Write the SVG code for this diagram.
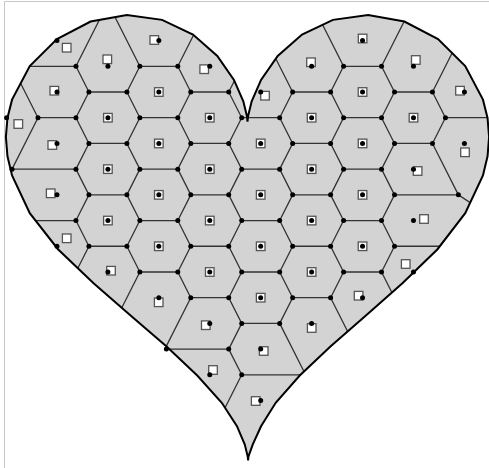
<svg xmlns="http://www.w3.org/2000/svg" width="489" height="468" viewBox="0 0 489 468">
<style>
.e{fill:none;stroke:#333;stroke-width:1.3;stroke-linejoin:round}
.q{fill:#fff;stroke:#555;stroke-width:1.3}
.d{fill:#000}
</style>
<defs>
<path id="heart" d="M247.5,121.6 L248.04,116.28 251.69,101.38 261.04,79.87 277.7,56.02 302.01,34.58 332.92,19.86 368.14,15 404.42,21.5 438.02,39.08 465.23,66.02 482.95,99.64 487.55,118.03 489.1,137 487.55,156.24 482.95,175.48 465.23,213.21 437.52,249.22 402.42,283.3 365.64,315.66 330.42,346.54 299.51,375.81 275.7,402.78 261.04,426.22 252.69,444.58 248.5,456.34 248.1,460.4 247.66,456.34 244.81,444.58 236.96,426.22 221.8,402.78 197.49,375.81 166.58,346.54 130.86,315.66 93.58,283.3 57.98,249.22 29.77,213.21 12.05,175.48 7.45,156.24 5.9,137 7.45,118.03 12.05,99.64 29.77,66.02 56.98,39.08 90.58,21.5 126.86,15 162.08,19.86 192.99,34.58 217.3,56.02 233.96,79.87 243.31,101.38 246.96,116.28 Z"/>
<clipPath id="hc"><use href="#heart"/></clipPath>
<rect id="sq" x="-4.3" y="-4.3" width="8.6" height="8.6"/>
<circle id="dot" r="2.5"/>
</defs>
<rect width="489" height="468" fill="#fff"/>
<path d="M4.5,468V1.5H489" fill="none" stroke="#c8c8c8" stroke-width="1"/>
<use href="#heart" fill="#d3d3d3"/>
<g id="connectors" class="e" clip-path="url(#hc)">
<path d="M12.04,66.3L37.99,117.72 12.04,169.14"/>
<path d="M107.9,3L75.95,66.3 88.92,92.01 75.95,117.72 88.92,143.43 75.95,169.14 88.92,194.85 75.95,220.56 88.92,246.27 -58.85,538.99"/>
<path d="M107.9,3L139.85,66.3 126.88,92.01 139.85,117.72 126.88,143.43 139.85,169.14 126.88,194.85 139.85,220.56 126.88,246.27 139.85,271.98 68.96,412.41"/>
<path d="M260.69,-97.89L177.81,66.3 190.78,92.01 177.81,117.72 190.78,143.43 177.81,169.14 190.78,194.85 177.81,220.56 190.78,246.27 177.81,271.98 190.78,297.69 164.83,349.11"/>
<path d="M260.69,28.71L228.74,92.01 241.71,117.72 228.74,143.43 241.71,169.14 228.74,194.85 241.71,220.56 228.74,246.27 241.71,271.98 228.74,297.69 241.71,323.4 228.74,349.11 241.71,374.82 189.83,477.66"/>
<path d="M260.69,28.71L292.64,92.01 279.67,117.72 292.64,143.43 279.67,169.14 292.64,194.85 279.67,220.56 292.64,246.27 279.67,271.98 292.64,297.69 279.67,323.4 305.62,374.82"/>
<path d="M260.69,-97.89L343.57,66.3 330.6,92.01 343.57,117.72 330.6,143.43 343.57,169.14 330.6,194.85 343.57,220.56 330.6,246.27 343.57,271.98 330.6,297.69 401.49,438.12"/>
<path d="M433.41,-36.54L381.53,66.3 394.5,92.01 381.53,117.72 394.5,143.43 381.53,169.14 394.5,194.85 381.53,220.56 394.5,246.27 381.53,271.98 529.3,564.7"/>
<path d="M484.34,-10.83L432.46,92.01 445.43,117.72 432.46,143.43 458.4,194.85 536.3,246.27"/>
<path d="M12.04,66.3H75.95M37.99,117.72H75.95M12.04,169.14H75.95M-65.84,220.56H75.95
M88.92,92.01H126.88M88.92,143.43H126.88M88.92,194.85H126.88M88.92,246.27H126.88
M139.85,66.3H177.81M139.85,117.72H177.81M139.85,169.14H177.81M139.85,220.56H177.81M139.85,271.98H177.81
M190.78,92.01H228.74M190.78,143.43H228.74M190.78,194.85H228.74M190.78,246.27H228.74M190.78,297.69H228.74M164.83,349.11H228.74
M241.71,117.72H279.67M241.71,169.14H279.67M241.71,220.56H279.67M241.71,271.98H279.67M241.71,323.4H279.67M241.71,374.82H305.62
M292.64,92.01H330.6M292.64,143.43H330.6M292.64,194.85H330.6M292.64,246.27H330.6M292.64,297.69H330.6
M343.57,66.3H381.53M343.57,117.72H381.53M343.57,169.14H381.53M343.57,220.56H381.53M343.57,271.98H381.53
M394.5,92.01H432.46M394.5,143.43H432.46M394.5,194.85H458.4M394.5,246.27H536.3
M445.43,117.72H560"/>
</g>
<use href="#heart" fill="none" stroke="#000" stroke-width="2"/>
<g id="vertices" class="d">
<use href="#dot" x="75.95" y="66.3"/><use href="#dot" x="139.85" y="66.3"/><use href="#dot" x="177.81" y="66.3"/><use href="#dot" x="343.57" y="66.3"/><use href="#dot" x="381.53" y="66.3"/>
<use href="#dot" x="88.92" y="92.01"/><use href="#dot" x="126.88" y="92.01"/><use href="#dot" x="190.78" y="92.01"/><use href="#dot" x="228.74" y="92.01"/><use href="#dot" x="292.64" y="92.01"/><use href="#dot" x="330.6" y="92.01"/><use href="#dot" x="394.5" y="92.01"/><use href="#dot" x="432.46" y="92.01"/>
<use href="#dot" x="37.99" y="117.72"/><use href="#dot" x="75.95" y="117.72"/><use href="#dot" x="139.85" y="117.72"/><use href="#dot" x="177.81" y="117.72"/><use href="#dot" x="241.71" y="117.72"/><use href="#dot" x="279.67" y="117.72"/><use href="#dot" x="343.57" y="117.72"/><use href="#dot" x="381.53" y="117.72"/><use href="#dot" x="445.43" y="117.72"/>
<use href="#dot" x="88.92" y="143.43"/><use href="#dot" x="126.88" y="143.43"/><use href="#dot" x="190.78" y="143.43"/><use href="#dot" x="228.74" y="143.43"/><use href="#dot" x="292.64" y="143.43"/><use href="#dot" x="330.6" y="143.43"/><use href="#dot" x="394.5" y="143.43"/><use href="#dot" x="432.46" y="143.43"/>
<use href="#dot" x="12.04" y="169.14"/><use href="#dot" x="75.95" y="169.14"/><use href="#dot" x="139.85" y="169.14"/><use href="#dot" x="177.81" y="169.14"/><use href="#dot" x="241.71" y="169.14"/><use href="#dot" x="279.67" y="169.14"/><use href="#dot" x="343.57" y="169.14"/><use href="#dot" x="381.53" y="169.14"/>
<use href="#dot" x="88.92" y="194.85"/><use href="#dot" x="126.88" y="194.85"/><use href="#dot" x="190.78" y="194.85"/><use href="#dot" x="228.74" y="194.85"/><use href="#dot" x="292.64" y="194.85"/><use href="#dot" x="330.6" y="194.85"/><use href="#dot" x="394.5" y="194.85"/><use href="#dot" x="458.4" y="194.85"/>
<use href="#dot" x="75.95" y="220.56"/><use href="#dot" x="139.85" y="220.56"/><use href="#dot" x="177.81" y="220.56"/><use href="#dot" x="241.71" y="220.56"/><use href="#dot" x="279.67" y="220.56"/><use href="#dot" x="343.57" y="220.56"/><use href="#dot" x="381.53" y="220.56"/>
<use href="#dot" x="88.92" y="246.27"/><use href="#dot" x="126.88" y="246.27"/><use href="#dot" x="190.78" y="246.27"/><use href="#dot" x="228.74" y="246.27"/><use href="#dot" x="292.64" y="246.27"/><use href="#dot" x="330.6" y="246.27"/><use href="#dot" x="394.5" y="246.27"/>
<use href="#dot" x="139.85" y="271.98"/><use href="#dot" x="177.81" y="271.98"/><use href="#dot" x="241.71" y="271.98"/><use href="#dot" x="279.67" y="271.98"/><use href="#dot" x="343.57" y="271.98"/><use href="#dot" x="381.53" y="271.98"/>
<use href="#dot" x="190.78" y="297.69"/><use href="#dot" x="228.74" y="297.69"/><use href="#dot" x="292.64" y="297.69"/><use href="#dot" x="330.6" y="297.69"/>
<use href="#dot" x="241.71" y="323.4"/><use href="#dot" x="279.67" y="323.4"/>
<use href="#dot" x="166.4" y="349.11"/><use href="#dot" x="228.74" y="349.11"/>
<use href="#dot" x="241.71" y="374.82"/>
</g>
<g id="sites">
<g id="s_m2_2"><use class="q" href="#sq" x="18.3" y="124"/><use class="d" href="#dot" x="6.6" y="117.72"/></g>
<g id="s_m1_m1"><use class="q" href="#sq" x="66.7" y="47.7"/><use class="d" href="#dot" x="56.97" y="40.59"/></g>
<g id="s_m1_1"><use class="q" href="#sq" x="54.3" y="90.7"/><use class="d" href="#dot" x="56.97" y="92.01"/></g>
<g id="s_m1_3"><use class="q" href="#sq" x="52.3" y="145"/><use class="d" href="#dot" x="56.97" y="143.43"/></g>
<g id="s_m1_5"><use class="q" href="#sq" x="50.7" y="193.3"/><use class="d" href="#dot" x="56.97" y="194.85"/></g>
<g id="s_m1_7"><use class="q" href="#sq" x="66.7" y="238.3"/><use class="d" href="#dot" x="56.97" y="246.27"/></g>
<g id="s_0_0"><use class="q" href="#sq" x="107.3" y="59.3"/><use class="d" href="#dot" x="107.9" y="66.3"/></g>
<g id="s_0_2"><use class="q" href="#sq" x="107.9" y="117.72"/><use class="d" href="#dot" x="107.9" y="117.72"/></g>
<g id="s_0_4"><use class="q" href="#sq" x="107.9" y="169.14"/><use class="d" href="#dot" x="107.9" y="169.14"/></g>
<g id="s_0_6"><use class="q" href="#sq" x="107.9" y="220.56"/><use class="d" href="#dot" x="107.9" y="220.56"/></g>
<g id="s_0_8"><use class="q" href="#sq" x="111" y="270.7"/><use class="d" href="#dot" x="107.9" y="271.98"/></g>
<g id="s_1_m1"><use class="q" href="#sq" x="154.3" y="40"/><use class="d" href="#dot" x="158.83" y="40.59"/></g>
<g id="s_1_1"><use class="q" href="#sq" x="158.83" y="92.01"/><use class="d" href="#dot" x="158.83" y="92.01"/></g>
<g id="s_1_3"><use class="q" href="#sq" x="158.83" y="143.43"/><use class="d" href="#dot" x="158.83" y="143.43"/></g>
<g id="s_1_5"><use class="q" href="#sq" x="158.83" y="194.85"/><use class="d" href="#dot" x="158.83" y="194.85"/></g>
<g id="s_1_7"><use class="q" href="#sq" x="158.83" y="246.27"/><use class="d" href="#dot" x="158.83" y="246.27"/></g>
<g id="s_1_9"><use class="q" href="#sq" x="158.7" y="302.3"/><use class="d" href="#dot" x="158.83" y="297.69"/></g>
<g id="s_2_0"><use class="q" href="#sq" x="204.2" y="69.2"/><use class="d" href="#dot" x="209.76" y="66.3"/></g>
<g id="s_2_2"><use class="q" href="#sq" x="209.76" y="117.72"/><use class="d" href="#dot" x="209.76" y="117.72"/></g>
<g id="s_2_4"><use class="q" href="#sq" x="209.76" y="169.14"/><use class="d" href="#dot" x="209.76" y="169.14"/></g>
<g id="s_2_6"><use class="q" href="#sq" x="209.76" y="220.56"/><use class="d" href="#dot" x="209.76" y="220.56"/></g>
<g id="s_2_8"><use class="q" href="#sq" x="209.76" y="271.98"/><use class="d" href="#dot" x="209.76" y="271.98"/></g>
<g id="s_2_10"><use class="q" href="#sq" x="205.8" y="325.2"/><use class="d" href="#dot" x="209.76" y="323.4"/></g>
<g id="s_2_12"><use class="q" href="#sq" x="213" y="370"/><use class="d" href="#dot" x="209.76" y="374.82"/></g>
<g id="s_3_1"><use class="q" href="#sq" x="265" y="95.7"/><use class="d" href="#dot" x="260.69" y="92.01"/></g>
<g id="s_3_3"><use class="q" href="#sq" x="260.69" y="143.43"/><use class="d" href="#dot" x="260.69" y="143.43"/></g>
<g id="s_3_5"><use class="q" href="#sq" x="260.69" y="194.85"/><use class="d" href="#dot" x="260.69" y="194.85"/></g>
<g id="s_3_7"><use class="q" href="#sq" x="260.69" y="246.27"/><use class="d" href="#dot" x="260.69" y="246.27"/></g>
<g id="s_3_9"><use class="q" href="#sq" x="260.69" y="297.69"/><use class="d" href="#dot" x="260.69" y="297.69"/></g>
<g id="s_3_11"><use class="q" href="#sq" x="263.7" y="351"/><use class="d" href="#dot" x="260.69" y="349.11"/></g>
<g id="s_3_13"><use class="q" href="#sq" x="255.7" y="401"/><use class="d" href="#dot" x="260.69" y="400.53"/></g>
<g id="s_4_0"><use class="q" href="#sq" x="311" y="62.3"/><use class="d" href="#dot" x="311.62" y="66.3"/></g>
<g id="s_4_2"><use class="q" href="#sq" x="311.62" y="117.72"/><use class="d" href="#dot" x="311.62" y="117.72"/></g>
<g id="s_4_4"><use class="q" href="#sq" x="311.62" y="169.14"/><use class="d" href="#dot" x="311.62" y="169.14"/></g>
<g id="s_4_6"><use class="q" href="#sq" x="311.62" y="220.56"/><use class="d" href="#dot" x="311.62" y="220.56"/></g>
<g id="s_4_8"><use class="q" href="#sq" x="311.62" y="271.98"/><use class="d" href="#dot" x="311.62" y="271.98"/></g>
<g id="s_4_10"><use class="q" href="#sq" x="311.7" y="328"/><use class="d" href="#dot" x="311.62" y="323.4"/></g>
<g id="s_5_m1"><use class="q" href="#sq" x="362.6" y="38.5"/><use class="d" href="#dot" x="362.55" y="40.59"/></g>
<g id="s_5_1"><use class="q" href="#sq" x="362.55" y="92.01"/><use class="d" href="#dot" x="362.55" y="92.01"/></g>
<g id="s_5_3"><use class="q" href="#sq" x="362.55" y="143.43"/><use class="d" href="#dot" x="362.55" y="143.43"/></g>
<g id="s_5_5"><use class="q" href="#sq" x="362.55" y="194.85"/><use class="d" href="#dot" x="362.55" y="194.85"/></g>
<g id="s_5_7"><use class="q" href="#sq" x="362.55" y="246.27"/><use class="d" href="#dot" x="362.55" y="246.27"/></g>
<g id="s_5_9"><use class="q" href="#sq" x="358.6" y="295.7"/><use class="d" href="#dot" x="362.55" y="297.69"/></g>
<g id="s_6_0"><use class="q" href="#sq" x="415.8" y="60"/><use class="d" href="#dot" x="413.48" y="66.3"/></g>
<g id="s_6_2"><use class="q" href="#sq" x="413.48" y="117.72"/><use class="d" href="#dot" x="413.48" y="117.72"/></g>
<g id="s_6_4"><use class="q" href="#sq" x="417.6" y="171"/><use class="d" href="#dot" x="413.48" y="169.14"/></g>
<g id="s_6_6"><use class="q" href="#sq" x="424" y="219"/><use class="d" href="#dot" x="413.48" y="220.56"/></g>
<g id="s_6_8"><use class="q" href="#sq" x="405.7" y="264"/><use class="d" href="#dot" x="413.48" y="271.98"/></g>
<g id="s_7_1"><use class="q" href="#sq" x="460" y="90.7"/><use class="d" href="#dot" x="464.41" y="92.01"/></g>
<g id="s_7_3"><use class="q" href="#sq" x="465" y="152.3"/><use class="d" href="#dot" x="464.41" y="143.43"/></g>
</g>
</svg>
